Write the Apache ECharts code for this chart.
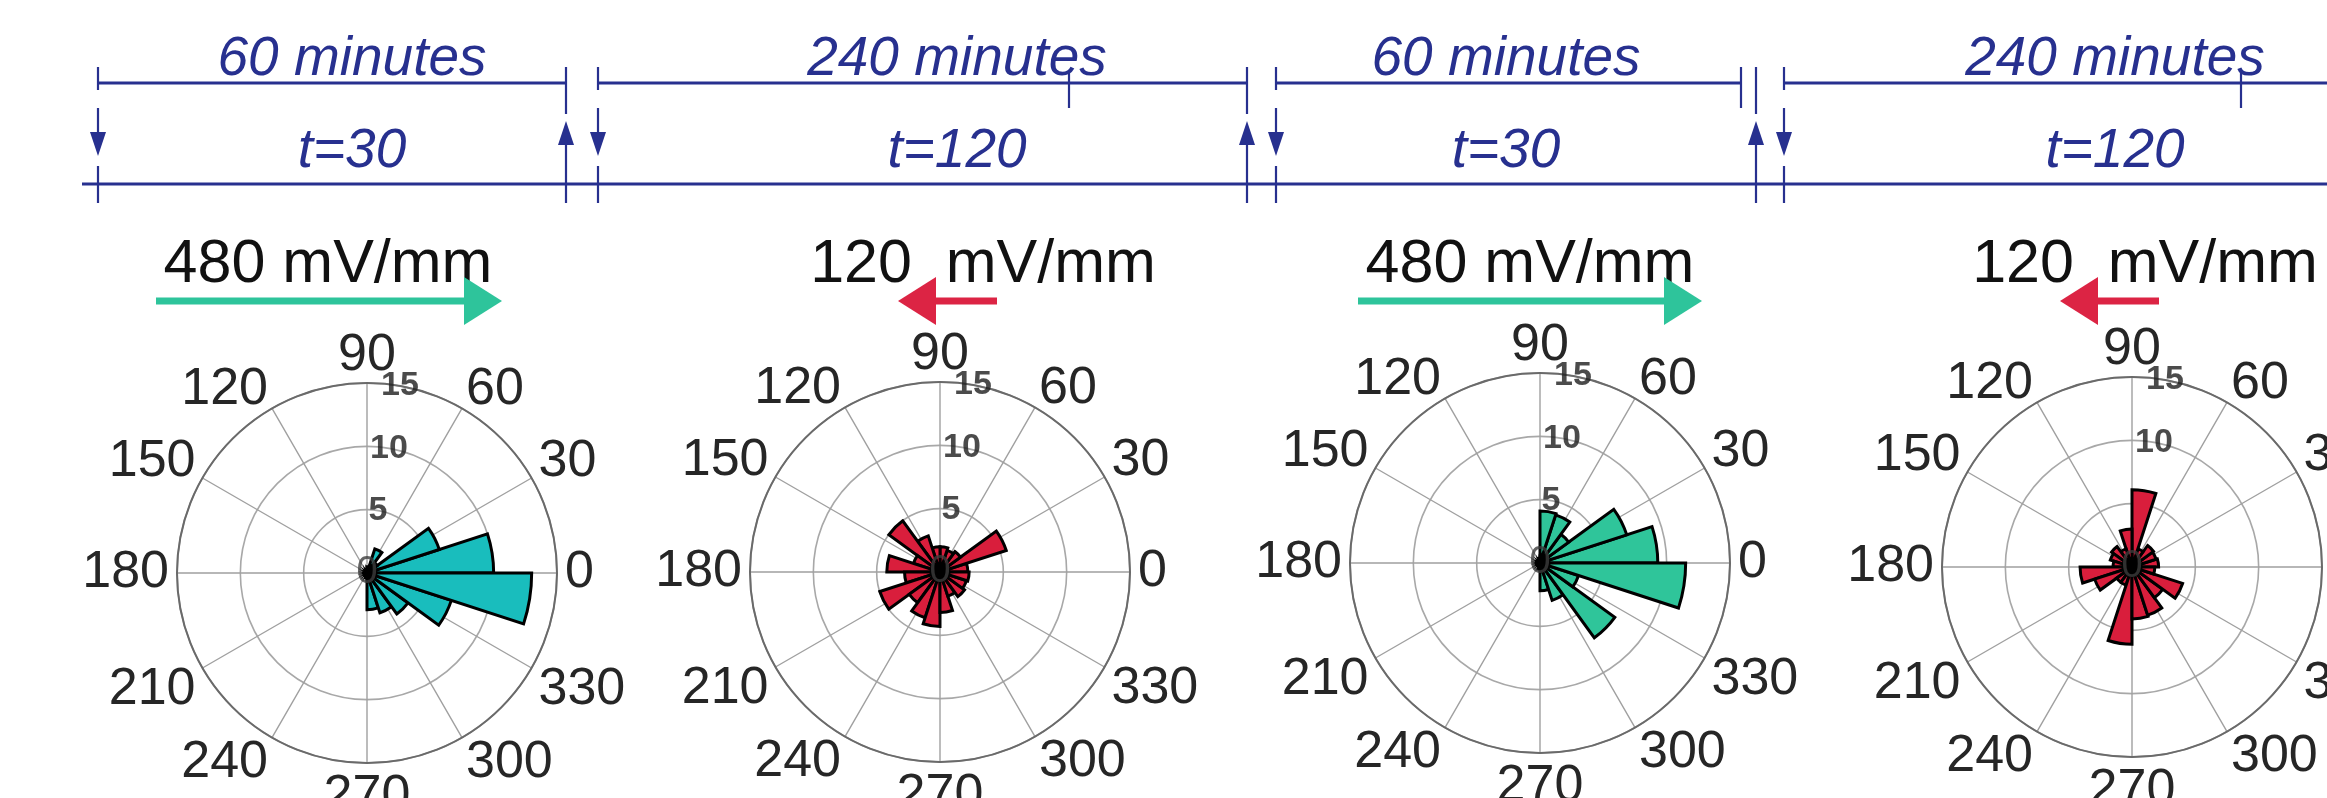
<!DOCTYPE html>
<html><head><meta charset="utf-8">
<script src="https://cdn.jsdelivr.net/npm/echarts@6/dist/echarts.min.js"></script>
<style>html,body{margin:0;padding:0;background:#fff;overflow:hidden}#c{width:2327px;height:798px}</style>
</head><body><div id="c"></div>
<script>
// ---------------- data ----------------
const binLabels = ['0-18','18-36','36-54','54-72','72-90','90-108','108-126','126-144','144-162','162-180',
                   '180-198','198-216','216-234','234-252','252-270','270-288','288-306','306-324','324-342','342-360'];
const ringTicks = [5, 10, 15];
const periodLabels = ['60 minutes', '240 minutes', '60 minutes', '240 minutes'];
const timeLabels = ['t=30', 't=120', 't=30', 't=120'];
const fieldLabels = ['480 mV/mm', '120  mV/mm', '480 mV/mm', '120  mV/mm'];
const fieldDirection = ['right', 'left', 'right', 'left'];

const rose1 = [10, 6, 1, 2, 0.5, 0.3, 0.2, 0.2, 0.2, 0.2, 0.2, 0.2, 0.2, 0.2, 0.4, 2.9, 3.3, 4.0, 7.0, 13.0];
const rose2 = [2.2, 5.5, 2.0, 1.8, 2.0, 2.0, 3.0, 5.0, 2.2, 4.2, 2.8, 5.0, 3.0, 3.8, 4.3, 3.2, 2.0, 2.4, 2.2, 2.3];
const rose3 = [9.3, 7.2, 2.8, 4.0, 4.1, 0.4, 0.3, 0.3, 0.3, 0.3, 0.3, 0.3, 0.3, 0.3, 0.5, 2.2, 3.1, 7.3, 3.2, 11.5];
const rose4 = [2.1, 2.0, 2.1, 1.5, 6.1, 3.0, 1.5, 2.0, 1.8, 1.5, 4.1, 3.1, 1.5, 1.5, 6.1, 4.1, 4.0, 3.0, 4.2, 1.8];
const roses = [rose1, rose2, rose3, rose4];

// ---------------- layout / style ----------------
const NAVY = '#27308F';
const FONT = '"Liberation Sans", Arial, sans-serif';
const centers = [[367, 573], [940, 572], [1540, 563], [2132, 567]];
const R = 190;
const fills = ['#19BDBD', '#D91E3C', '#2FC59A', '#D91E3C'];
const arrowColors = { right: '#2EC49B', left: '#DC2444' };
const RING_LABEL_ANGLE = 80;

const labelRich = {
  d: { fontSize: 52, lineHeight: 24 },
  t: { fontSize: 52, lineHeight: 38 },
  l: { fontSize: 52, lineHeight: 36 },
  m: { fontSize: 52, lineHeight: 52 }
};
function angleLabel(v) {
  if (v === 360) return '';
  if (v === 90) return '{t|' + v + '}';
  if (v === 30 || v === 60 || v === 120 || v === 150) return '{d|' + v + '}';
  if (v === 210 || v === 240 || v === 300 || v === 330) return '{l|' + v + '}';
  return '{m|' + v + '}';
}

const polar = [], angleAxis = [], radiusAxis = [], series = [];
centers.forEach((c, k) => {
  polar.push({ center: c, radius: R });
  angleAxis.push({
    polarIndex: k, type: 'value', min: 0, max: 360, interval: 30, startAngle: 0, clockwise: false,
    axisLine: { show: true, lineStyle: { color: '#6a6a6a', width: 2 } },
    axisTick: { show: false },
    axisLabel: { fontSize: 52, color: '#262626', fontFamily: FONT, margin: 8,
                 formatter: angleLabel, rich: labelRich },
    splitLine: { show: true, lineStyle: { color: '#a0a0a0', width: 1.4 } }
  });
  radiusAxis.push({
    polarIndex: k, type: 'value', min: 0, max: 15, interval: 5,
    axisLine: { show: false }, axisTick: { show: false }, axisLabel: { show: false },
    splitLine: { show: true, lineStyle: { color: '#a8a8a8', width: 1.6 } }
  });
});
centers.forEach((c, k) => {
  polar.push({ center: c, radius: R });
  angleAxis.push({
    polarIndex: 4 + k, type: 'category', data: binLabels, startAngle: 0, clockwise: false, boundaryGap: true,
    axisLine: { show: false }, axisTick: { show: false }, axisLabel: { show: false }, splitLine: { show: false }
  });
  radiusAxis.push({
    polarIndex: 4 + k, type: 'value', min: 0, max: 15,
    axisLine: { show: false }, axisTick: { show: false }, axisLabel: { show: false }, splitLine: { show: false }
  });
});

roses.forEach((vals, k) => {
  series.push({
    type: 'scatter', coordinateSystem: 'polar', polarIndex: k, z: 2, silent: true,
    symbol: 'rect', symbolSize: 44, itemStyle: { color: 'rgba(255,255,255,0)' },
    data: ringTicks.map(r => [r, RING_LABEL_ANGLE]),
    label: { show: true, position: 'inside', formatter: p => String(p.value[0]),
             fontSize: 34, fontWeight: 'bold', color: '#1e1e1e', fontFamily: FONT },
    labelLayout: { hideOverlap: false }
  });
  series.push({
    type: 'bar', coordinateSystem: 'polar', polarIndex: 4 + k, z: 3,
    data: vals, barCategoryGap: '0%',
    itemStyle: { color: fills[k], borderColor: '#000', borderWidth: 3 }
  });
  series.push({
    type: 'scatter', coordinateSystem: 'polar', polarIndex: k, z: 5, silent: true,
    symbol: 'rect', symbolSize: 44, itemStyle: { color: 'rgba(255,255,255,0)' },
    data: [[0, 0]],
    label: { show: true, position: 'inside', formatter: '0',
             fontSize: 38, color: '#3c3c3c', fontFamily: FONT }
  });
});

// ---------------- header (schematic timeline) ----------------
const g = [];
const L = (x1, y1, x2, y2, w) => g.push({ type: 'line', shape: { x1, y1, x2, y2 }, style: { stroke: NAVY, lineWidth: w || 2.2 } });
const P = (pts, fill) => g.push({ type: 'polygon', shape: { points: pts }, style: { fill } });
const T = (x, y, text, font, fill) => g.push({ type: 'text', x, y, style: { text, font, fill, align: 'center', verticalAlign: 'middle' } });

const TOP_Y = 83, BOT_Y = 184;
const topLines = [[98, 566], [598, 1247], [1276, 1741], [1784, 2327]];
topLines.forEach(s => L(s[0], TOP_Y, s[1], TOP_Y, 3));
L(82, BOT_Y, 2327, BOT_Y, 3);
[98, 598, 1276, 1784].forEach(x => { // section start: arrow down
  L(x, 67, x, 90); L(x, 108, x, 140); P([[x - 8, 132], [x + 8, 132], [x, 156]], NAVY); L(x, 166, x, 203);
});
[566, 1247, 1756].forEach(x => { // section end: arrow up
  L(x, 67, x, 114); P([[x - 8, 145], [x + 8, 145], [x, 121]], NAVY); L(x, 140, x, 203);
});
L(1741, 67, 1741, 108);
[1069, 2241].forEach(x => L(x, 72, x, 108));
const periodX = [352, 957, 1506, 2115];
periodLabels.forEach((t, i) => T(periodX[i], 60, t, 'italic 55px ' + FONT, NAVY));
timeLabels.forEach((t, i) => T(periodX[i], 152, t, 'italic 55px ' + FONT, NAVY));

// field labels and arrows
const fieldX = [328, 983, 1530, 2145];
fieldLabels.forEach((t, i) => T(fieldX[i], 265, t, '61px ' + FONT, '#111'));
const arrows = [[156, 502], [997, 898], [1358, 1702], [2159, 2060]]; // [tail, tip]
arrows.forEach((a, i) => {
  const col = arrowColors[fieldDirection[i]], y = 301, dir = a[1] > a[0] ? 1 : -1;
  const headL = 38;
  g.push({ type: 'line', shape: { x1: a[0], y1: y, x2: a[1] - dir * headL, y2: y }, style: { stroke: col, lineWidth: 7 } });
  P([[a[1], y], [a[1] - dir * headL, y - 24], [a[1] - dir * headL, y + 24]], col);
});

const chart = echarts.init(document.getElementById('c'), null, { renderer: 'canvas' });
chart.setOption({
  animation: false,
  backgroundColor: '#fff',
  textStyle: { fontFamily: FONT },
  polar, angleAxis, radiusAxis, series,
  graphic: { elements: g }
});
</script></body></html>
